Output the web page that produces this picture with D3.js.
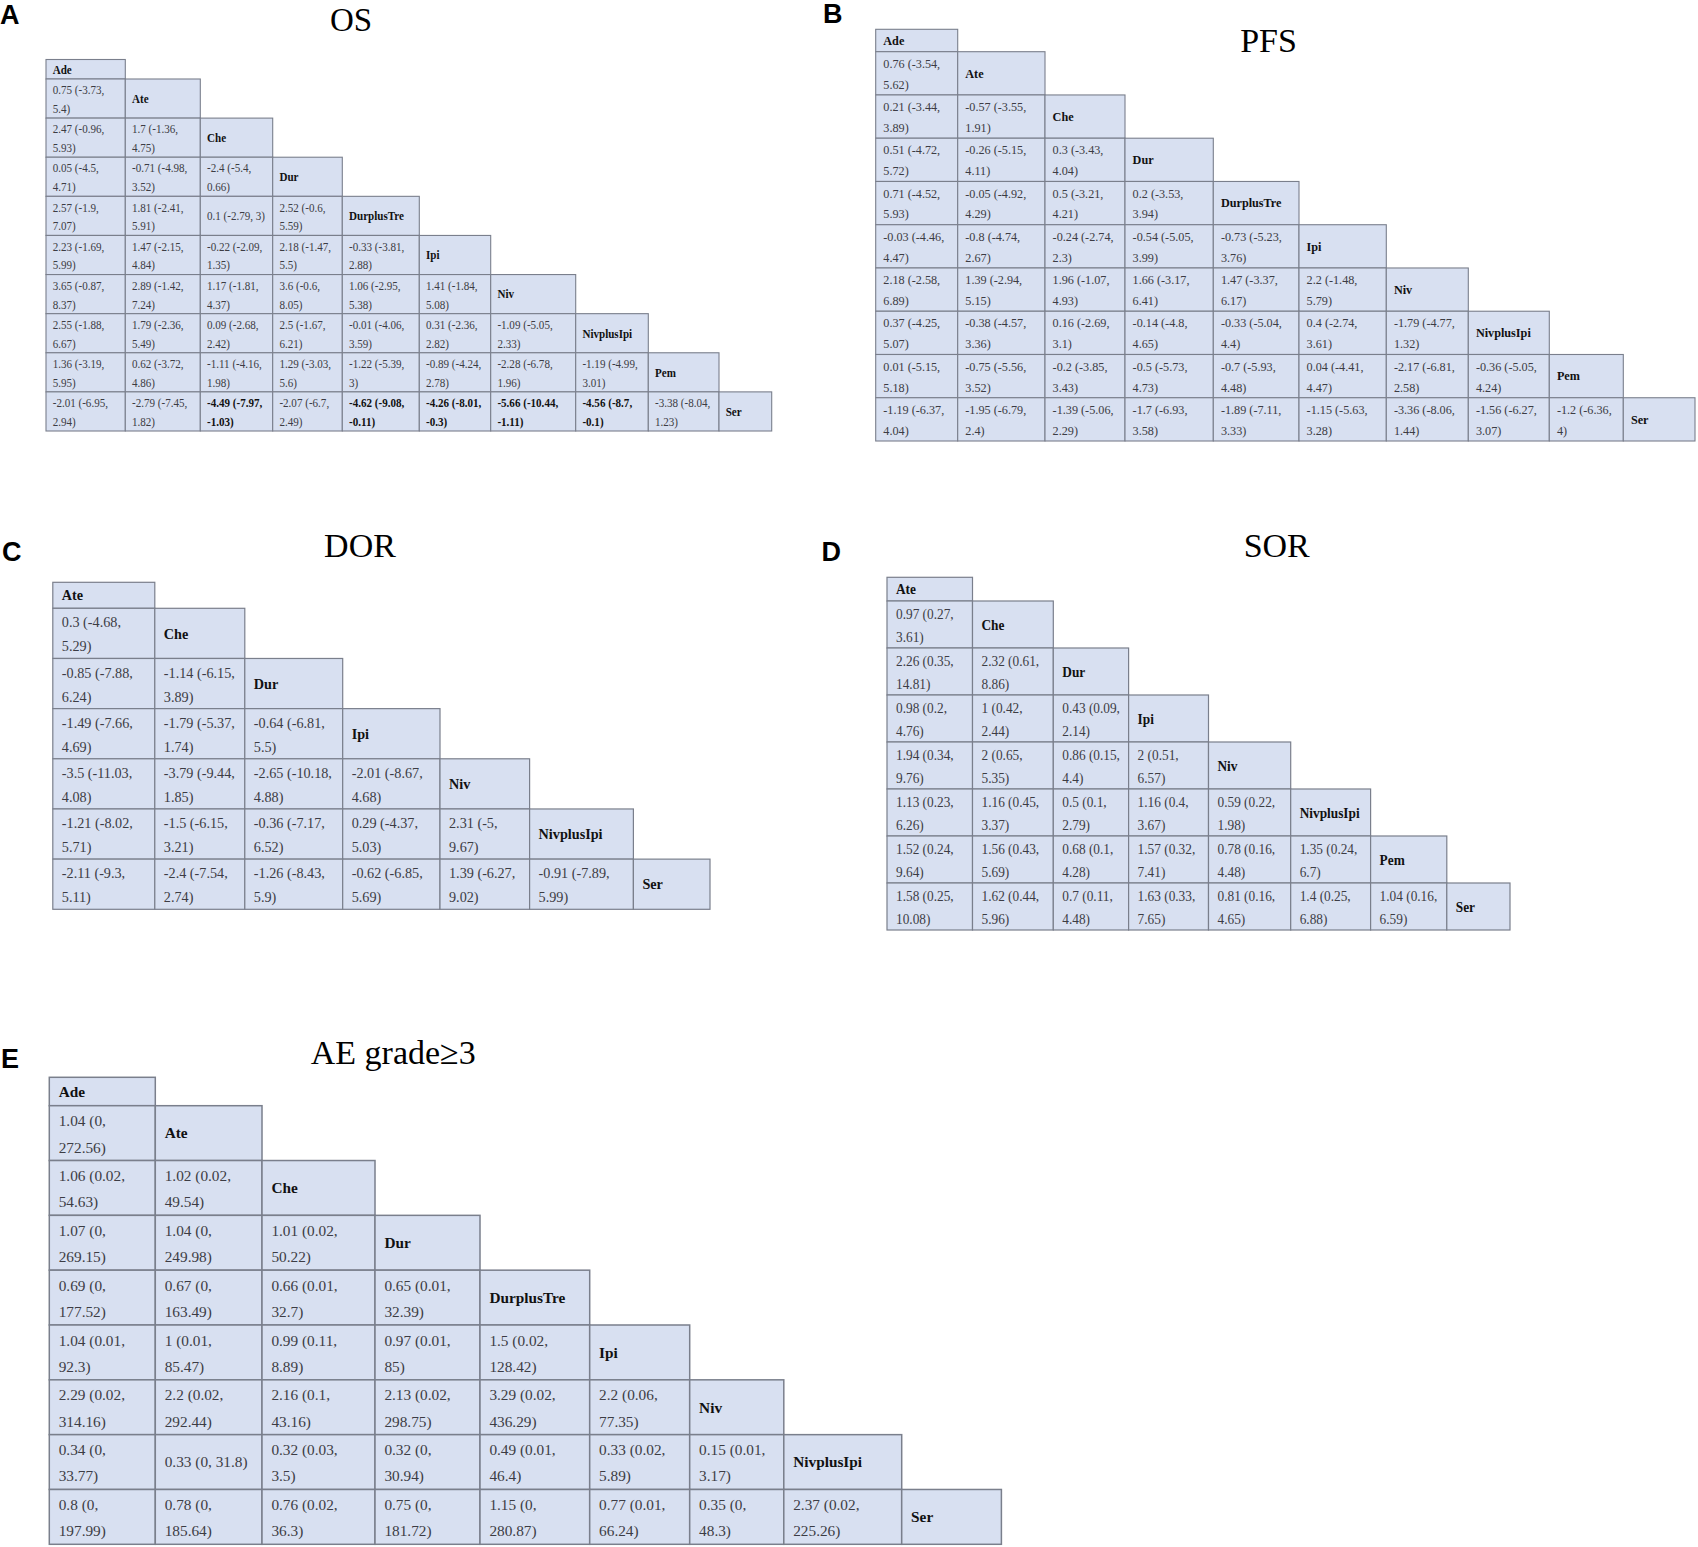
<!DOCTYPE html>
<html>
<head>
<meta charset="utf-8">
<script src="https://cdn.jsdelivr.net/npm/d3@7"></script>
<style>
  body { margin: 0; background: #fff; }
</style>
</head>
<body>
<div id="chart"></div>
<script>
// league tables: each row i holds the comparisons against the treatments above it
// values are [estimate, lower, upper]

const osNames = ['Ade', 'Ate', 'Che', 'Dur', 'DurplusTre', 'Ipi', 'Niv', 'NivplusIpi', 'Pem', 'Ser'];
const osValues = [
  [[0.75, -3.73, 5.4]],
  [[2.47, -0.96, 5.93], [1.7, -1.36, 4.75]],
  [[0.05, -4.5, 4.71], [-0.71, -4.98, 3.52], [-2.4, -5.4, 0.66]],
  [[2.57, -1.9, 7.07], [1.81, -2.41, 5.91], [0.1, -2.79, 3], [2.52, -0.6, 5.59]],
  [[2.23, -1.69, 5.99], [1.47, -2.15, 4.84], [-0.22, -2.09, 1.35], [2.18, -1.47, 5.5], [-0.33, -3.81, 2.88]],
  [[3.65, -0.87, 8.37], [2.89, -1.42, 7.24], [1.17, -1.81, 4.37], [3.6, -0.6, 8.05], [1.06, -2.95, 5.38], [1.41, -1.84, 5.08]],
  [[2.55, -1.88, 6.67], [1.79, -2.36, 5.49], [0.09, -2.68, 2.42], [2.5, -1.67, 6.21], [-0.01, -4.06, 3.59], [0.31, -2.36, 2.82], [-1.09, -5.05, 2.33]],
  [[1.36, -3.19, 5.95], [0.62, -3.72, 4.86], [-1.11, -4.16, 1.98], [1.29, -3.03, 5.6], [-1.22, -5.39, 3], [-0.89, -4.24, 2.78], [-2.28, -6.78, 1.96], [-1.19, -4.99, 3.01]],
  [[-2.01, -6.95, 2.94], [-2.79, -7.45, 1.82], [-4.49, -7.97, -1.03], [-2.07, -6.7, 2.49], [-4.62, -9.08, -0.11], [-4.26, -8.01, -0.3], [-5.66, -10.44, -1.11], [-4.56, -8.7, -0.1], [-3.38, -8.04, 1.23]]
];

const pfsNames = ['Ade', 'Ate', 'Che', 'Dur', 'DurplusTre', 'Ipi', 'Niv', 'NivplusIpi', 'Pem', 'Ser'];
const pfsValues = [
  [[0.76, -3.54, 5.62]],
  [[0.21, -3.44, 3.89], [-0.57, -3.55, 1.91]],
  [[0.51, -4.72, 5.72], [-0.26, -5.15, 4.11], [0.3, -3.43, 4.04]],
  [[0.71, -4.52, 5.93], [-0.05, -4.92, 4.29], [0.5, -3.21, 4.21], [0.2, -3.53, 3.94]],
  [[-0.03, -4.46, 4.47], [-0.8, -4.74, 2.67], [-0.24, -2.74, 2.3], [-0.54, -5.05, 3.99], [-0.73, -5.23, 3.76]],
  [[2.18, -2.58, 6.89], [1.39, -2.94, 5.15], [1.96, -1.07, 4.93], [1.66, -3.17, 6.41], [1.47, -3.37, 6.17], [2.2, -1.48, 5.79]],
  [[0.37, -4.25, 5.07], [-0.38, -4.57, 3.36], [0.16, -2.69, 3.1], [-0.14, -4.8, 4.65], [-0.33, -5.04, 4.4], [0.4, -2.74, 3.61], [-1.79, -4.77, 1.32]],
  [[0.01, -5.15, 5.18], [-0.75, -5.56, 3.52], [-0.2, -3.85, 3.43], [-0.5, -5.73, 4.73], [-0.7, -5.93, 4.48], [0.04, -4.41, 4.47], [-2.17, -6.81, 2.58], [-0.36, -5.05, 4.24]],
  [[-1.19, -6.37, 4.04], [-1.95, -6.79, 2.4], [-1.39, -5.06, 2.29], [-1.7, -6.93, 3.58], [-1.89, -7.11, 3.33], [-1.15, -5.63, 3.28], [-3.36, -8.06, 1.44], [-1.56, -6.27, 3.07], [-1.2, -6.36, 4]]
];

const dorNames = ['Ate', 'Che', 'Dur', 'Ipi', 'Niv', 'NivplusIpi', 'Ser'];
const dorValues = [
  [[0.3, -4.68, 5.29]],
  [[-0.85, -7.88, 6.24], [-1.14, -6.15, 3.89]],
  [[-1.49, -7.66, 4.69], [-1.79, -5.37, 1.74], [-0.64, -6.81, 5.5]],
  [[-3.5, -11.03, 4.08], [-3.79, -9.44, 1.85], [-2.65, -10.18, 4.88], [-2.01, -8.67, 4.68]],
  [[-1.21, -8.02, 5.71], [-1.5, -6.15, 3.21], [-0.36, -7.17, 6.52], [0.29, -4.37, 5.03], [2.31, -5, 9.67]],
  [[-2.11, -9.3, 5.11], [-2.4, -7.54, 2.74], [-1.26, -8.43, 5.9], [-0.62, -6.85, 5.69], [1.39, -6.27, 9.02], [-0.91, -7.89, 5.99]]
];

const sorNames = ['Ate', 'Che', 'Dur', 'Ipi', 'Niv', 'NivplusIpi', 'Pem', 'Ser'];
const sorValues = [
  [[0.97, 0.27, 3.61]],
  [[2.26, 0.35, 14.81], [2.32, 0.61, 8.86]],
  [[0.98, 0.2, 4.76], [1, 0.42, 2.44], [0.43, 0.09, 2.14]],
  [[1.94, 0.34, 9.76], [2, 0.65, 5.35], [0.86, 0.15, 4.4], [2, 0.51, 6.57]],
  [[1.13, 0.23, 6.26], [1.16, 0.45, 3.37], [0.5, 0.1, 2.79], [1.16, 0.4, 3.67], [0.59, 0.22, 1.98]],
  [[1.52, 0.24, 9.64], [1.56, 0.43, 5.69], [0.68, 0.1, 4.28], [1.57, 0.32, 7.41], [0.78, 0.16, 4.48], [1.35, 0.24, 6.7]],
  [[1.58, 0.25, 10.08], [1.62, 0.44, 5.96], [0.7, 0.11, 4.48], [1.63, 0.33, 7.65], [0.81, 0.16, 4.65], [1.4, 0.25, 6.88], [1.04, 0.16, 6.59]]
];

const aeNames = ['Ade', 'Ate', 'Che', 'Dur', 'DurplusTre', 'Ipi', 'Niv', 'NivplusIpi', 'Ser'];
const aeValues = [
  [[1.04, 0, 272.56]],
  [[1.06, 0.02, 54.63], [1.02, 0.02, 49.54]],
  [[1.07, 0, 269.15], [1.04, 0, 249.98], [1.01, 0.02, 50.22]],
  [[0.69, 0, 177.52], [0.67, 0, 163.49], [0.66, 0.01, 32.7], [0.65, 0.01, 32.39]],
  [[1.04, 0.01, 92.3], [1, 0.01, 85.47], [0.99, 0.11, 8.89], [0.97, 0.01, 85], [1.5, 0.02, 128.42]],
  [[2.29, 0.02, 314.16], [2.2, 0.02, 292.44], [2.16, 0.1, 43.16], [2.13, 0.02, 298.75], [3.29, 0.02, 436.29], [2.2, 0.06, 77.35]],
  [[0.34, 0, 33.77], [0.33, 0, 31.8], [0.32, 0.03, 3.5], [0.32, 0, 30.94], [0.49, 0.01, 46.4], [0.33, 0.02, 5.89], [0.15, 0.01, 3.17]],
  [[0.8, 0, 197.99], [0.78, 0, 185.64], [0.76, 0.02, 36.3], [0.75, 0, 181.72], [1.15, 0, 280.87], [0.77, 0.01, 66.24], [0.35, 0, 48.3], [2.37, 0.02, 225.26]]
];

const W = 1698, H = 1547;
const serif = '"Liberation Serif", "Times New Roman", serif';
const sans = '"Liberation Sans", Arial, sans-serif';
const cellFill = '#d8e0f1';
const cellStroke = '#7a7f8c';

// layout of each panel (column / row edges of the table, text sizing)
const panels = [
  { label: 'A', lx: 0, ly: 24, title: 'OS', tx: 351, ty: 30.5, tfs: 33, names: osNames, values: osValues, nul: 0,
    cols: [46, 125.3, 200.3, 272.7, 342.3, 419.3, 490.7, 575.7, 648.3, 719, 771.7],
    rows: [59.5, 79, 431], fs: 12.3, sx: 0.9, padL: 6.7, padR: 5, sw: 1.1 },
  { label: 'B', lx: 823, ly: 23, title: 'PFS', tx: 1268.5, ty: 51.7, tfs: 34, names: pfsNames, values: pfsValues, nul: 0,
    cols: [875.7, 957.7, 1045, 1125, 1213.3, 1299, 1386.3, 1468.3, 1549.3, 1623.3, 1695],
    rows: [29.3, 51.7, 441], fs: 12.2, sx: 1, padL: 7.6, padR: 5, sw: 1.1 },
  { label: 'C', lx: 2, ly: 560.7, title: 'DOR', tx: 360, ty: 557.3, tfs: 34, names: dorNames, values: dorValues, nul: 0,
    cols: [52.8, 154.8, 244.8, 342.7, 440, 529.6, 633.4, 710],
    rows: [582.3, 608.3, 909.3], fs: 14.8, sx: 0.96, padL: 9, padR: 9, sw: 1.2 },
  { label: 'D', lx: 821.5, ly: 561, title: 'SOR', tx: 1276.7, ty: 557, tfs: 34, names: sorNames, values: sorValues, nul: 1,
    cols: [887, 972.5, 1053.3, 1128.6, 1208.5, 1290.7, 1370.6, 1446.8, 1510],
    rows: [577.3, 601, 930], fs: 14.8, sx: 0.9, padL: 9, padR: 9, sw: 1.2 },
  { label: 'E', lx: 1, ly: 1068, title: 'AE grade\u22653', tx: 393.3, ty: 1064, tfs: 34, names: aeNames, values: aeValues, nul: 1,
    cols: [49.3, 155.3, 262, 375, 480, 589.7, 689.7, 783.8, 901.7, 1001.4],
    rows: [1077.3, 1105.7, 1544.3], fs: 15.3, sx: 1, padL: 9.4, padR: 11, sw: 1.5 }
];

const svg = d3.select('#chart')
  .append('svg')
  .attr('width', W)
  .attr('height', H)
  .style('display', 'block')
  .style('background', '#fff');

const fmt = v => `${v[0]} (${v[1]}, ${v[2]})`;

function drawPanel(p) {
  const g = svg.append('g').attr('class', 'panel');

  g.append('text')
    .attr('x', p.lx)
    .attr('y', p.ly)
    .attr('font-family', sans)
    .attr('font-weight', 'bold')
    .attr('font-size', 27)
    .attr('fill', '#000')
    .text(p.label);

  g.append('text')
    .attr('x', p.tx)
    .attr('y', p.ty)
    .attr('text-anchor', 'middle')
    .attr('font-family', serif)
    .attr('font-size', p.tfs)
    .attr('fill', '#000')
    .text(p.title);

  const n = p.names.length;
  // piecewise scales: column index -> x edge, row index -> y edge
  const x = d3.scaleLinear().domain(d3.range(n + 1)).range(p.cols);
  const y = d3.scaleLinear().domain([0, 1, n]).range(p.rows);

  const cells = [];
  p.names.forEach((name, i) => {
    for (let j = 0; j < i; j++) cells.push({ i, j, v: p.values[i - 1][j] });
    cells.push({ i, j: i, name });
  });

  const cell = g.selectAll('g.cell')
    .data(cells)
    .join('g')
    .attr('class', 'cell');

  cell.append('rect')
    .attr('x', d => x(d.j))
    .attr('y', d => y(d.i))
    .attr('width', d => x(d.j + 1) - x(d.j))
    .attr('height', d => y(d.i + 1) - y(d.i))
    .attr('fill', cellFill)
    .attr('stroke', cellStroke)
    .attr('stroke-width', p.sw);

  const line = (sel, str, tx, ty, bold, color) =>
    sel.append('text')
      .attr('transform', `translate(${tx},${ty}) scale(${p.sx},1)`)
      .attr('font-family', serif)
      .attr('font-size', p.fs)
      .attr('font-weight', bold ? 'bold' : 'normal')
      .attr('fill', color)
      .text(str);

  cell.each(function (d) {
    const c = d3.select(this);
    const x0 = x(d.j), cw = x(d.j + 1) - x0;
    const y0 = y(d.i), rh = y(d.i + 1) - y0;
    const cy = y0 + rh / 2;
    const tx = x0 + p.padL;

    if (d.name) {
      line(c, d.name, tx, cy + 0.35 * p.fs, true, '#111');
      return;
    }
    // bold when the interval excludes the null value
    const sig = d.v[1] > p.nul || d.v[2] < p.nul;
    const color = sig ? '#111' : '#3c3c44';
    const t = line(c, fmt(d.v), tx, cy + 0.35 * p.fs, sig, color);
    const w = t.node().getComputedTextLength() * p.sx;
    if (w > cw - p.padL - p.padR) {
      t.remove();
      const lh = 0.48 * rh;
      const mid = cy + 0.41 * p.fs;
      line(c, `${d.v[0]} (${d.v[1]},`, tx, mid - lh / 2, sig, color);
      line(c, `${d.v[2]})`, tx, mid + lh / 2, sig, color);
    }
  });
}

panels.forEach(drawPanel);
</script>
</body>
</html>
